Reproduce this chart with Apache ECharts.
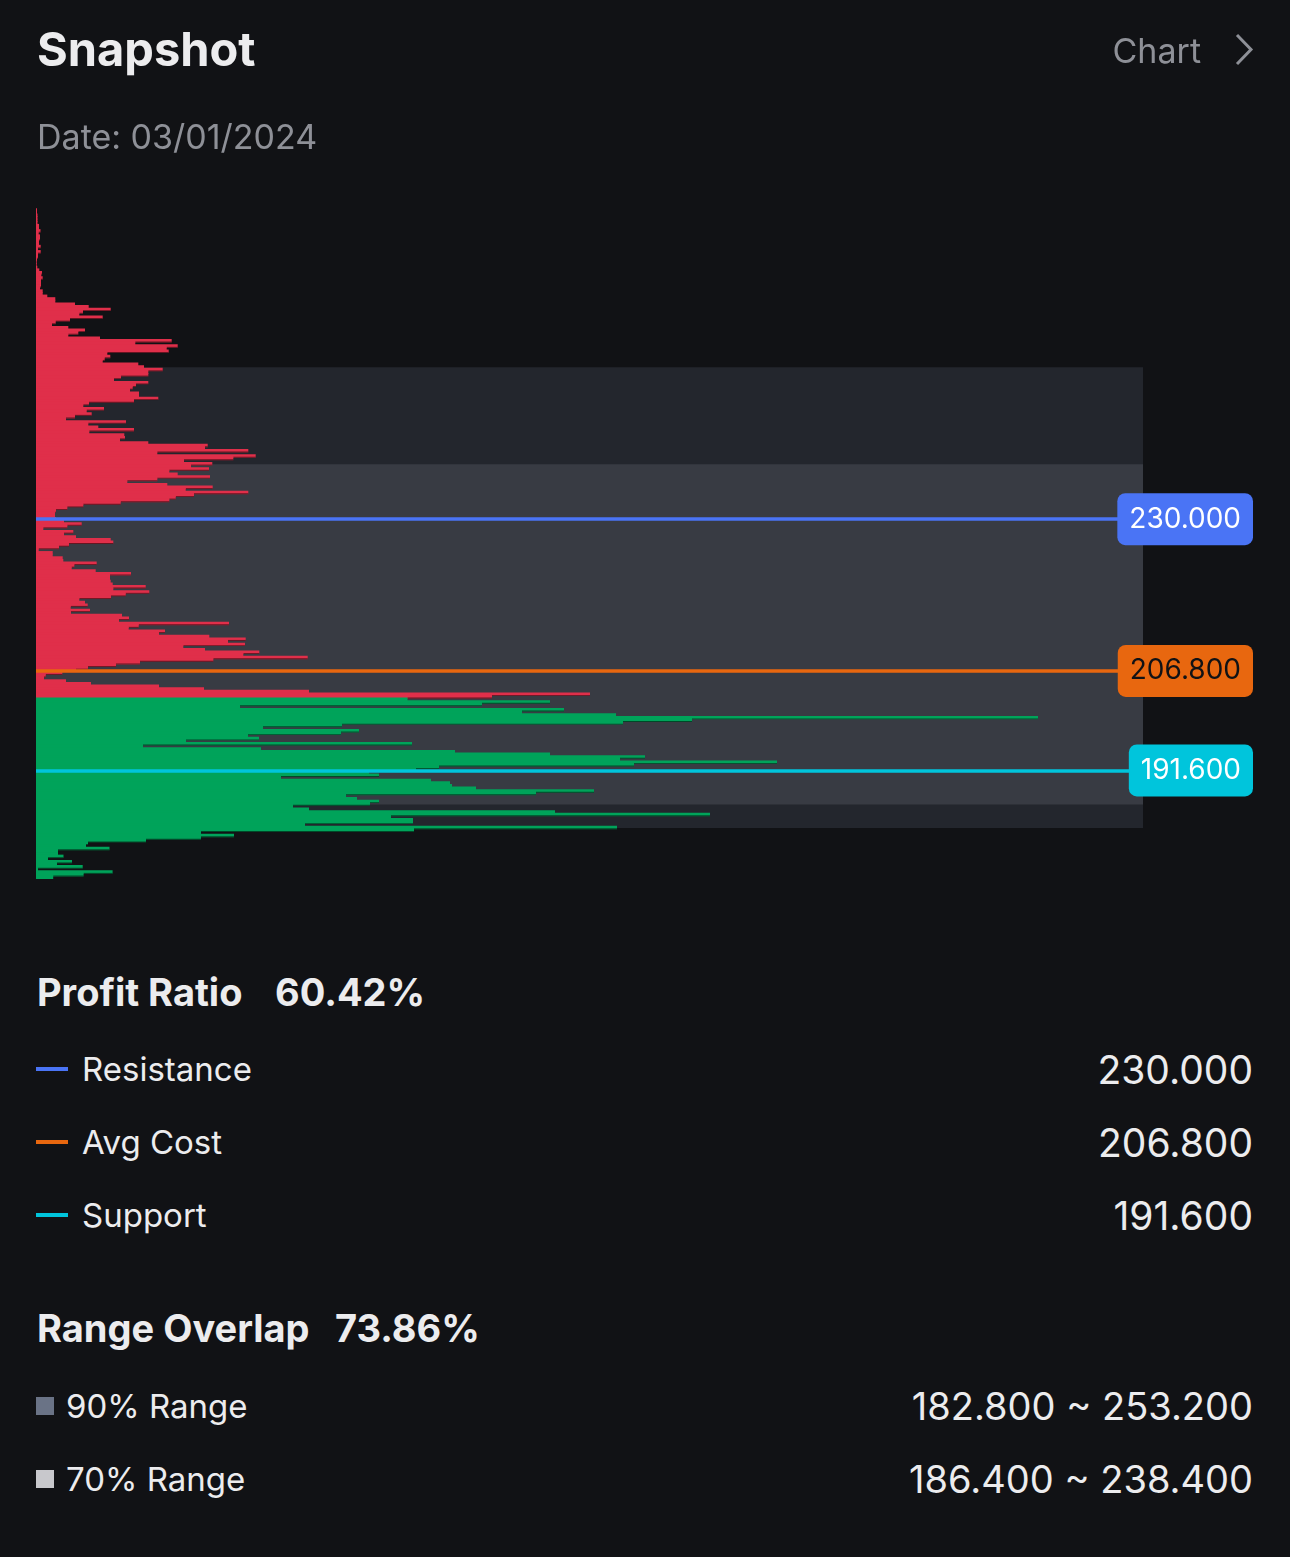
<!DOCTYPE html>
<html>
<head>
<meta charset="utf-8">
<script src="https://cdn.jsdelivr.net/npm/echarts@6/dist/echarts.min.js"></script>
<style>
html, body { margin: 0; padding: 0; background: #111215; }
body { width: 1290px; height: 1557px; position: relative; overflow: hidden; font-family: Inter, "Noto Sans", sans-serif; color: #ececee; }
#chart { position: absolute; left: 0; top: 0; width: 1290px; height: 900px; }
.t { position: absolute; white-space: nowrap; line-height: 1; transform: translateY(-50%); }
.r { right: 37px; }
.sw { position: absolute; }
</style>
</head>
<body>
<div id="chart"></div>
<div id="info"></div>
<script>
// chip distribution, one bin every 0.4 from the top price down
var binTop = 277.2;
var binStep = 0.4;
var currentPrice = 202.6;
var binVolumes = [
  1, 1, 1.5, 1.5, 1.5, 1.5, 3, 3, 4.5, 2.7,
  4, 4, 3, 3, 4.7, 2, 4.7, 2, 2, 1,
  0.7, 0.7, 1.3, 3.3, 6, 5.3, 6.7, 5, 5, 5,
  4, 6.7, 6.7, 11.3, 19.3, 19.3, 39, 52.7, 74.7, 47,
  43.3, 66.7, 34, 19.7, 16, 32.3, 49, 42.3, 32.3, 64,
  135.7, 99.3, 141.7, 130.7, 132.7, 71.3, 74.3, 68.7, 66.7, 102.3,
  108, 126.7, 112.3, 112.3, 85, 78, 112.3, 100, 96.7, 94,
  103, 103, 122.3, 98, 53, 47.3, 68, 50.7, 55.7, 39,
  30, 90, 52.3, 62.3, 98, 53.3, 88.3, 89, 84, 112.3,
  171.7, 169, 212.3, 121.3, 219.7, 197.3, 148, 176.3, 155, 173,
  133.3, 141.7, 174, 121.3, 91.3, 131.3, 176.7, 149.7, 212.3, 158,
  139.7, 133.3, 84.7, 47.3, 31.3, 20, 19, 19, 20, 28,
  45.7, 31.3, 7.3, 37.3, 28, 40, 74.7, 77.3, 33, 23,
  2.7, 16.7, 16.7, 26.7, 27.3, 60.7, 38.3, 35.7, 59.7, 95,
  74, 74, 74.7, 76.7, 109.7, 77.3, 113.3, 89.7, 75, 43.3,
  49, 51.7, 34.7, 54, 35, 86, 93, 83, 193, 102.7,
  92.7, 129, 123, 173.3, 209.7, 192, 209, 147.3, 169, 223.3,
  207.3, 271.7, 177.3, 104, 80, 52, 40, 26.3, 9.7, 8,
  30, 55, 123, 168, 273, 554, 456, 371.5, 514, 446,
  204, 528, 486, 580, 1002, 656, 587, 306, 227, 323,
  305, 212, 223, 150, 376, 107, 225, 419, 514, 609,
  584, 741, 598, 403, 380, 333, 343, 245, 395, 414,
  416, 440, 558, 500, 310, 321, 343, 334, 257, 273,
  519, 674, 355, 377, 377, 269, 581, 378, 165, 198,
  165, 110, 52, 50, 73.5, 22, 22, 27.5, 12, 36,
  21, 46.7, 2, 76.6, 47.6, 17.2
];

var levelNames = ['Resistance', 'Avg Cost', 'Support'];
var levelValues = [230.0, 206.8, 191.6];
var levelColors = ['#4a74f5', '#e8670f', '#00c5dc'];
var levelTextColors = ['#ffffff', '#111215', '#ffffff'];

var rangeNames = ['90% Range', '70% Range'];
var rangeLow = [182.8, 186.4];
var rangeHigh = [253.2, 238.4];
var rangeBandColors = ['#23262d', '#383b43'];
var rangeSwatchColors = ['#6a7386', '#c8c8cc'];

var profitRatio = 60.42;
var rangeOverlap = 73.86;
var snapshotDate = '03/01/2024';

var lossColor = '#e02f4a';
var profitColor = '#00a35a';

var bins = binVolumes.map(function (v, i) {
  return [+(binTop - i * binStep).toFixed(1), v];
});

function renderBin(params, api) {
  var price = api.value(0);
  var vol = api.value(1);
  var a = api.coord([0, price + binStep / 2]);
  var b = api.coord([vol, price - binStep / 2]);
  var w = b[0] - a[0];
  var h = b[1] - a[1];
  var fill = price > currentPrice ? lossColor : profitColor;
  var children = [
    { type: 'rect', shape: { x: a[0], y: a[1] - 0.8, width: w, height: h + 0.8 }, style: { fill: fill } }
  ];
  // thin dark edge where the bin below is shorter
  var next = binVolumes[params.dataIndex + 1];
  if (next !== undefined && next < vol) {
    var n = api.coord([next, price]);
    children.push({ type: 'rect', shape: { x: n[0], y: b[1] - 0.9, width: b[0] - n[0], height: 0.9 }, style: { fill: 'rgba(0,0,0,0.55)' } });
  }
  return { type: 'group', children: children };
}

var yMin = 175.0, yMax = 277.4;

var chart = echarts.init(document.getElementById('chart'));
var option = {
  backgroundColor: 'transparent',
  animation: false,
  title: [
    { text: 'Snapshot', left: 32, top: 23, textStyle: { color: '#ececee', fontSize: 47, fontWeight: 'bold', fontFamily: 'Inter' } },
    { text: 'Date: ' + snapshotDate, left: 32, top: 117, textStyle: { color: '#8e9097', fontSize: 34, fontWeight: 'normal', fontFamily: 'Inter' } },
    { text: 'Chart', right: 84, top: 31, textStyle: { color: '#8e9097', fontSize: 34, fontWeight: 'normal', fontFamily: 'Inter' } }
  ],
  graphic: [
    { type: 'polyline', shape: { points: [[1237, 35], [1251, 49.5], [1237, 64]] }, style: { stroke: '#8e9097', lineWidth: 3, fill: null } }
  ],
  grid: [
    { left: 36, width: 1107, top: 209, height: 670 },
    { left: 36, right: 37, top: 209, height: 670 }
  ],
  xAxis: [
    { type: 'value', gridIndex: 0, min: 0, max: 1107, show: false },
    { type: 'value', gridIndex: 1, min: 0, max: 1, show: false }
  ],
  yAxis: [
    { type: 'value', gridIndex: 0, min: yMin, max: yMax, show: false },
    { type: 'value', gridIndex: 1, min: yMin, max: yMax, show: false }
  ],
  series: [
    {
      name: 'ranges',
      type: 'line',
      xAxisIndex: 0,
      yAxisIndex: 0,
      data: [],
      z: 1,
      markArea: {
        silent: true,
        data: rangeLow.map(function (lo, i) {
          return [{ yAxis: lo, itemStyle: { color: rangeBandColors[i] } }, { yAxis: rangeHigh[i] }];
        })
      }
    },
    {
      name: 'chips',
      type: 'custom',
      xAxisIndex: 0,
      yAxisIndex: 0,
      z: 2,
      clip: false,
      encode: { x: 1, y: 0 },
      renderItem: renderBin,
      data: bins
    },
    {
      name: 'levels',
      type: 'line',
      xAxisIndex: 1,
      yAxisIndex: 1,
      data: [],
      z: 3,
      markLine: {
        silent: true,
        symbol: 'none',
        label: { show: false },
        data: levelValues.map(function (v, i) {
          return { yAxis: v, lineStyle: { color: levelColors[i], width: 3.5, type: 'solid', opacity: 1 } };
        })
      }
    },
    {
      name: 'tags',
      type: 'scatter',
      xAxisIndex: 1,
      yAxisIndex: 1,
      z: 5,
      symbolSize: 0,
      itemStyle: { opacity: 1 },
      label: {
        show: true,
        position: 'left',
        distance: 0,
        fontSize: 28,
        fontFamily: 'Inter',
        lineHeight: 34,
        padding: [9, 12, 9, 12],
        borderRadius: 8,
        formatter: function (p) { return p.value[1].toFixed(3); }
      },
      data: levelValues.map(function (v, i) {
        return { value: [1, v], label: { backgroundColor: levelColors[i], color: levelTextColors[i] } };
      })
    }
  ]
};
chart.setOption(option);

// stats below the chart
var html = '';
html += '<div class="t" style="left:37px;top:992px;font-size:38px;font-weight:700;">Profit Ratio</div>';
html += '<div class="t" style="left:275px;top:992px;font-size:38px;font-weight:700;">' + profitRatio.toFixed(2) + '%</div>';
levelNames.forEach(function (n, i) {
  var cy = 1069 + i * 73;
  html += '<div class="sw" style="left:36px;top:' + (cy - 2) + 'px;width:32px;height:4px;background:' + levelColors[i] + ';"></div>';
  html += '<div class="t" style="left:82px;top:' + cy + 'px;font-size:33px;">' + n + '</div>';
  html += '<div class="t r" style="top:' + cy + 'px;font-size:39px;">' + levelValues[i].toFixed(3) + '</div>';
});
html += '<div class="t" style="left:37px;top:1328px;font-size:38px;font-weight:700;">Range Overlap</div>';
html += '<div class="t" style="left:335px;top:1328px;font-size:38px;font-weight:700;">' + rangeOverlap.toFixed(2) + '%</div>';
rangeNames.forEach(function (n, i) {
  var cy = 1406 + i * 73;
  html += '<div class="sw" style="left:36px;top:' + (cy - 9) + 'px;width:18px;height:18px;background:' + rangeSwatchColors[i] + ';"></div>';
  html += '<div class="t" style="left:66px;top:' + cy + 'px;font-size:33px;">' + n + '</div>';
  html += '<div class="t r" style="top:' + cy + 'px;font-size:38px;">' + rangeLow[i].toFixed(3) + ' ~ ' + rangeHigh[i].toFixed(3) + '</div>';
});
document.getElementById('info').innerHTML = html;

window.addEventListener('resize', function () {
  chart.resize();
});
</script>
</body>
</html>
